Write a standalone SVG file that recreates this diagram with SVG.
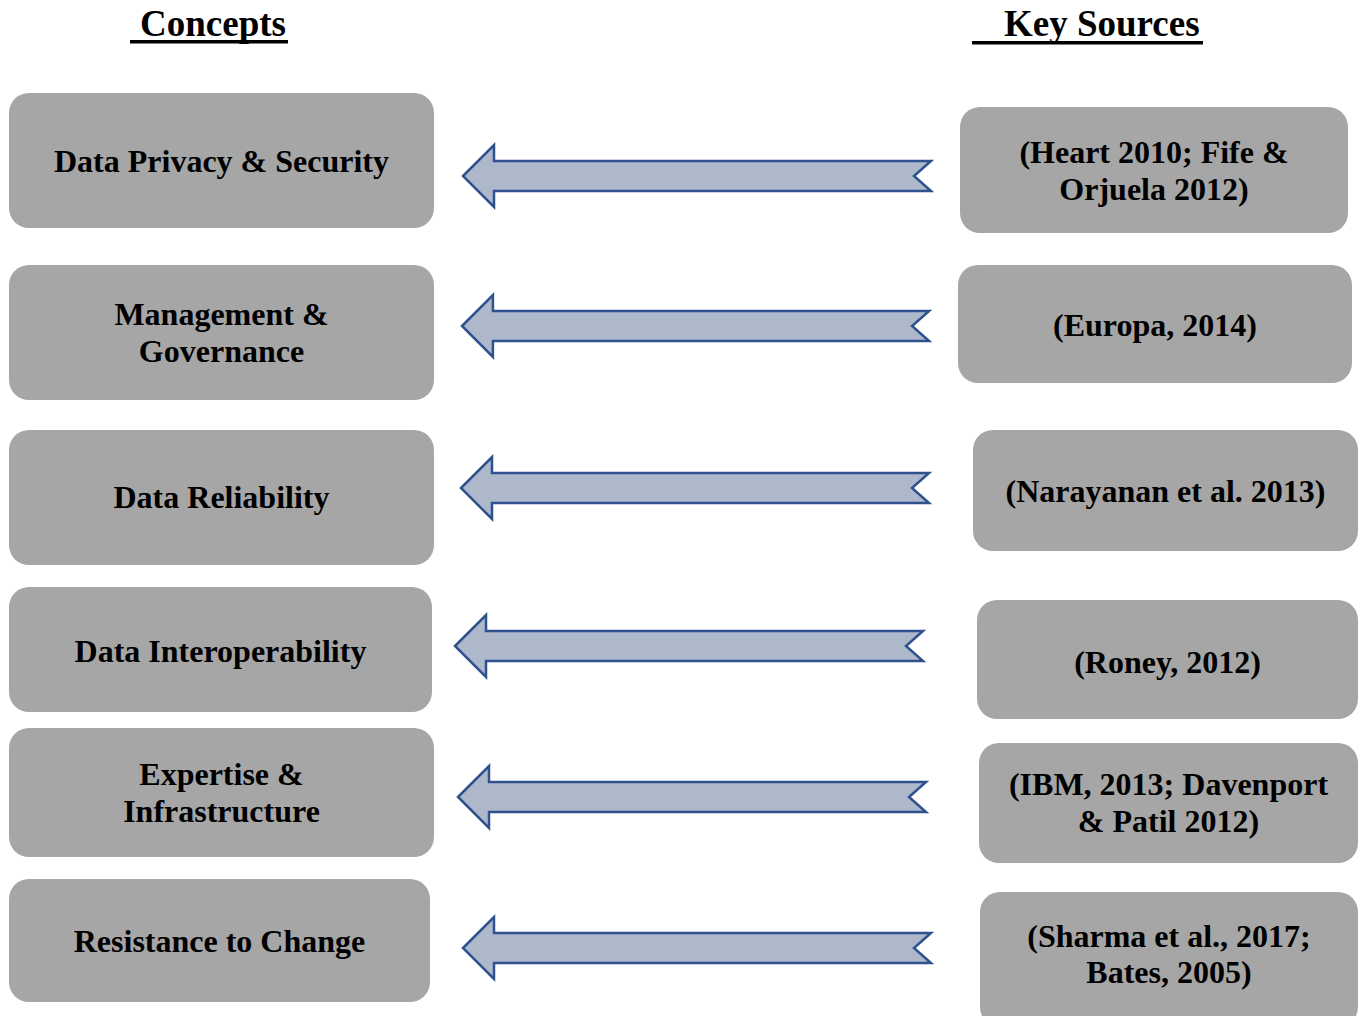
<svg xmlns="http://www.w3.org/2000/svg" width="1362" height="1016" viewBox="0 0 1362 1016">
  <style>
    .box { fill: #a6a6a6; }
    .lbl { font-family: "Liberation Serif", "Times New Roman", serif; font-weight: bold; font-size: 32px; fill: #000; text-anchor: middle; }
    .head { font-family: "Liberation Serif", "Times New Roman", serif; font-weight: bold; font-size: 37px; fill: #000; }
    .uline { fill: #000; }
    .arrow { fill: #adb9ca; stroke: #2f528f; stroke-width: 2.5; stroke-linejoin: miter; }
  </style>
  <defs>
    <!-- notched left-pointing block arrow, tip at (0,0), tail end at x=468 -->
    <path id="blockArrow" d="M0,0 L31,-31 L31,-15 L468,-15 L451,0 L468,15 L31,15 L31,31 Z"/>
  </defs>
  <rect width="1362" height="1016" fill="#ffffff"/>

  <g id="heading-concepts">
    <text class="head" x="140" y="36">Concepts</text>
    <rect class="uline" x="130" y="40" width="158" height="3.5"/>
  </g>
  <g id="heading-sources">
    <text class="head" x="1004" y="36">Key Sources</text>
    <rect class="uline" x="972" y="41" width="231" height="3.5"/>
  </g>

  <!-- concept nodes -->
  <g id="concept-privacy">
    <rect class="box" x="9" y="93" width="425" height="135" rx="20"/>
    <text class="lbl" x="221.5" y="172">Data Privacy &amp; Security</text>
  </g>
  <g id="concept-management">
    <rect class="box" x="9" y="265" width="425" height="135" rx="20"/>
    <text class="lbl" x="221.5" y="325">Management &amp;</text>
    <text class="lbl" x="221.5" y="362">Governance</text>
  </g>
  <g id="concept-reliability">
    <rect class="box" x="9" y="430" width="425" height="135" rx="20"/>
    <text class="lbl" x="221.5" y="508">Data Reliability</text>
  </g>
  <g id="concept-interoperability">
    <rect class="box" x="9" y="587" width="423" height="125" rx="20"/>
    <text class="lbl" x="220.5" y="662">Data Interoperability</text>
  </g>
  <g id="concept-expertise">
    <rect class="box" x="9" y="728" width="425" height="129" rx="20"/>
    <text class="lbl" x="221.5" y="785">Expertise &amp;</text>
    <text class="lbl" x="221.5" y="822">Infrastructure</text>
  </g>
  <g id="concept-resistance">
    <rect class="box" x="9" y="879" width="421" height="123" rx="20"/>
    <text class="lbl" x="219.5" y="952">Resistance to Change</text>
  </g>

  <!-- source nodes -->
  <g id="source-heart">
    <rect class="box" x="960" y="107" width="388" height="126" rx="20"/>
    <text class="lbl" x="1154" y="163">(Heart 2010; Fife &amp;</text>
    <text class="lbl" x="1154" y="200">Orjuela 2012)</text>
  </g>
  <g id="source-europa">
    <rect class="box" x="958" y="265" width="394" height="118" rx="20"/>
    <text class="lbl" x="1155" y="336">(Europa, 2014)</text>
  </g>
  <g id="source-narayanan">
    <rect class="box" x="973" y="430" width="385" height="121" rx="20"/>
    <text class="lbl" x="1165.5" y="502">(Narayanan et al. 2013)</text>
  </g>
  <g id="source-roney">
    <rect class="box" x="977" y="600" width="381" height="119" rx="20"/>
    <text class="lbl" x="1167.5" y="673">(Roney, 2012)</text>
  </g>
  <g id="source-ibm">
    <rect class="box" x="979" y="743" width="379" height="120" rx="20"/>
    <text class="lbl" x="1168.5" y="795">(IBM, 2013; Davenport</text>
    <text class="lbl" x="1168.5" y="832">&amp; Patil 2012)</text>
  </g>
  <g id="source-sharma">
    <rect class="box" x="980" y="892" width="378" height="135" rx="20"/>
    <text class="lbl" x="1169" y="947">(Sharma et al., 2017;</text>
    <text class="lbl" x="1169" y="983">Bates, 2005)</text>
  </g>

  <!-- connectors: block arrows from sources to concepts -->
  <g id="connectors">
    <use href="#blockArrow" class="arrow" transform="translate(463,176)"/>
    <use href="#blockArrow" class="arrow" transform="translate(462,326) scale(0.998,1)"/>
    <use href="#blockArrow" class="arrow" transform="translate(461,488)"/>
    <use href="#blockArrow" class="arrow" transform="translate(455,646)"/>
    <use href="#blockArrow" class="arrow" transform="translate(458,797)"/>
    <use href="#blockArrow" class="arrow" transform="translate(463,948)"/>
  </g>
</svg>
